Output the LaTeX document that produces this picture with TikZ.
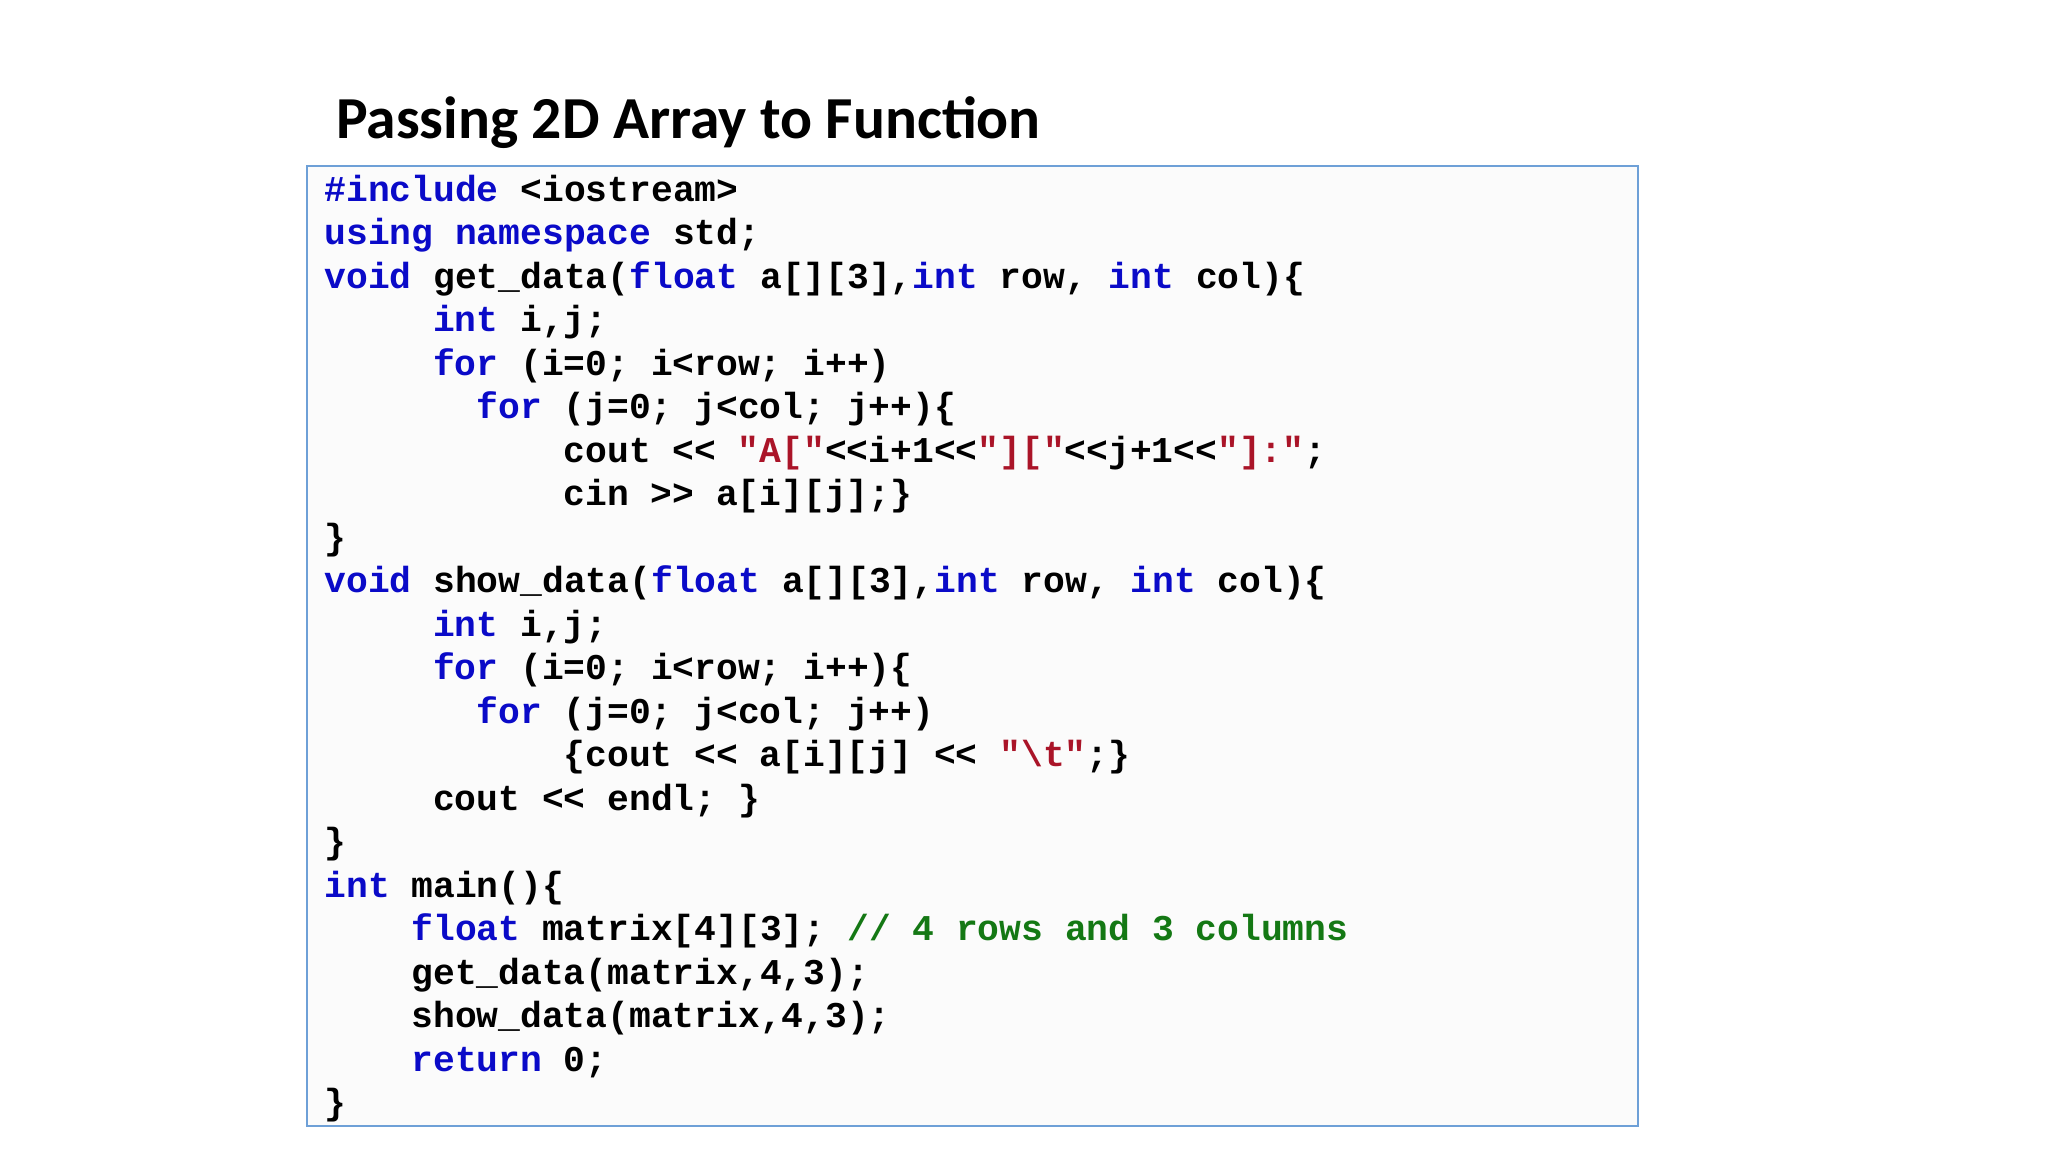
\documentclass[tikz,border=0pt]{standalone}
\usepackage{fontspec}
\setmainfont{Carlito}
\setmonofont{Liberation Mono}
\definecolor{kw}{RGB}{10,10,200}
\definecolor{str}{RGB}{170,20,40}
\definecolor{cmt}{RGB}{20,120,20}
\definecolor{frame}{RGB}{110,160,215}
\newcommand{\kw}[1]{\textcolor{kw}{#1}}
\newcommand{\st}[1]{\textcolor{str}{#1}}
\newcommand{\cm}[1]{\textcolor{cmt}{#1}}
\tikzset{codeline/.style={anchor=base west,inner sep=0pt,font=\fontsize{13.9}{16}\ttfamily\bfseries}}
\begin{document}
\begin{tikzpicture}[x=0.5pt,y=-0.5pt]
\useasboundingbox[fill=white] (0,0) rectangle (1568,882);
\node[anchor=base west,inner sep=0pt,font=\fontsize{22.8}{27}\bfseries] (title) at (257,106) {Passing 2D Array to Function};
\draw[frame,line width=0.8pt,fill=gray!3] (235,127) rectangle (1254,862);
\def\cw{16.65}
\foreach \n/\ind/\txt in {
 1/0/{\kw{\#include} <iostream>},
 2/0/{\kw{using namespace} std;},
 3/0/{\kw{void} get\_data(\kw{float} a[][3],\kw{int} row, \kw{int} col)\{},
 4/5/{\kw{int} i,j;},
 5/5/{\kw{for} (i=0; i<row; i++)},
 6/7/{\kw{for} (j=0; j<col; j++)\{},
 7/11/{cout << \st{"A["}<<i+1<<\st{"]["}<<j+1<<\st{"]:"};},
 8/11/{cin >> a[i][j];\}},
 9/0/{\}},
 10/0/{\kw{void} show\_data(\kw{float} a[][3],\kw{int} row, \kw{int} col)\{},
 11/5/{\kw{int} i,j;},
 12/5/{\kw{for} (i=0; i<row; i++)\{},
 13/7/{\kw{for} (j=0; j<col; j++)},
 14/11/{\{cout << a[i][j] << \st{"\textbackslash t"};\}},
 15/5/{cout << endl; \}},
 16/0/{\}},
 17/0/{\kw{int} main()\{},
 18/4/{\kw{float} matrix[4][3]; \cm{// 4 rows and 3 columns}},
 19/4/{get\_data(matrix,4,3);},
 20/4/{show\_data(matrix,4,3);},
 21/4/{\kw{return} 0;},
 22/0/{\}}}{
 \node[codeline] (l\n) at ({248+\cw*\ind},{154+33.3*(\n-1)}) {\txt};
}
\end{tikzpicture}
\end{document}
